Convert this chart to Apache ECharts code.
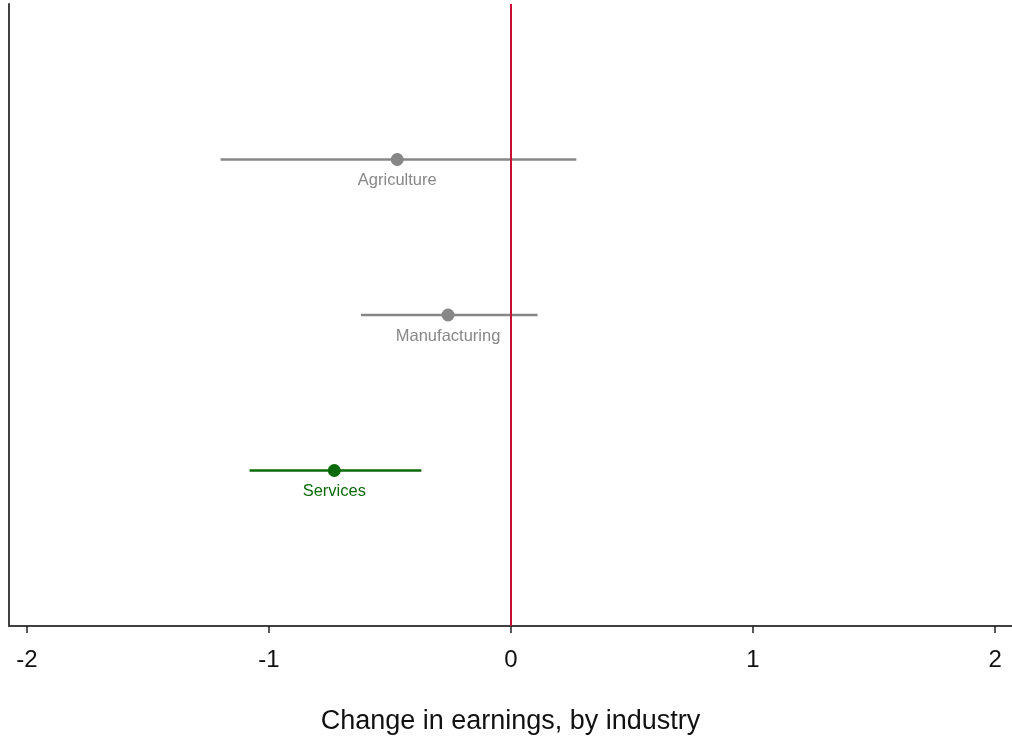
<!DOCTYPE html>
<html>
<head>
<meta charset="utf-8">
<script src="https://cdn.jsdelivr.net/npm/echarts@6/dist/echarts.min.js"></script>
<style>
  html, body { margin: 0; padding: 0; background: #fff; }
  #chart { width: 1012px; height: 736px; }
</style>
</head>
<body>
<div id="chart"></div>
<script>
// industries, top to bottom
const categories = ['Agriculture', 'Manufacturing', 'Services']
// point estimates and confidence bounds
const estimates = [-0.47, -0.26, -0.73]
const lower = [-1.20, -0.62, -1.08]
const upper = [0.27, 0.11, -0.37]
// x axis tick labels
const xTicks = [-2, -1, 0, 1, 2]

const colors = ['#878787', '#878787', '#0a6a0a']

// rows: [lower, upper, row position, index]
const ciData = categories.map((c, i) => [lower[i], upper[i], i + 1, i])
const pointData = categories.map((c, i) => ({
  value: [estimates[i], i + 1],
  name: c,
  itemStyle: { color: colors[i], opacity: 1 },
  label: { color: colors[i] }
}))

const font = 'Liberation Sans, Arial, sans-serif'

const chart = echarts.init(document.getElementById('chart'))
chart.setOption({
  animation: false,
  grid: { left: 9, right: 0, top: 4, bottom: 110, containLabel: false, outerBoundsMode: 'none' },
  xAxis: {
    type: 'value',
    min: -2.074,
    max: 2.07,
    splitLine: { show: false },
    axisLine: { onZero: false, lineStyle: { color: '#404040', width: 2 } },
    axisTick: { customValues: xTicks, length: 7, lineStyle: { color: '#222', width: 1.5 } },
    axisLabel: {
      customValues: xTicks,
      color: '#111',
      fontSize: 24,
      fontFamily: font,
      margin: 22
    },
    name: 'Change in earnings, by industry',
    nameLocation: 'middle',
    nameGap: 82,
    nameTextStyle: { color: '#111', fontSize: 27, fontFamily: font }
  },
  yAxis: {
    type: 'value',
    inverse: true,
    min: 0,
    max: 4,
    splitLine: { show: false },
    axisLine: { show: true, onZero: false, lineStyle: { color: '#404040', width: 2 } },
    axisTick: { show: false },
    axisLabel: { show: false }
  },
  series: [
    {
      type: 'custom',
      data: ciData,
      z: 2,
      renderItem: function (params, api) {
        const a = api.coord([api.value(0), api.value(2)])
        const b = api.coord([api.value(1), api.value(2)])
        return {
          type: 'line',
          shape: { x1: a[0], y1: a[1], x2: b[0], y2: b[1] },
          style: { stroke: colors[api.value(3)], lineWidth: 2.4 }
        }
      }
    },
    {
      type: 'scatter',
      data: pointData,
      symbolSize: 13,
      z: 3,
      label: {
        show: true,
        position: 'bottom',
        distance: 6,
        formatter: '{b}',
        fontSize: 16.5,
        fontFamily: font
      },
      markLine: {
        silent: true,
        symbol: 'none',
        z: 5,
        label: { show: false },
        lineStyle: { color: '#c8102e', width: 2, type: 'solid' },
        data: [{ xAxis: 0 }]
      }
    }
  ]
})
</script>
</body>
</html>
